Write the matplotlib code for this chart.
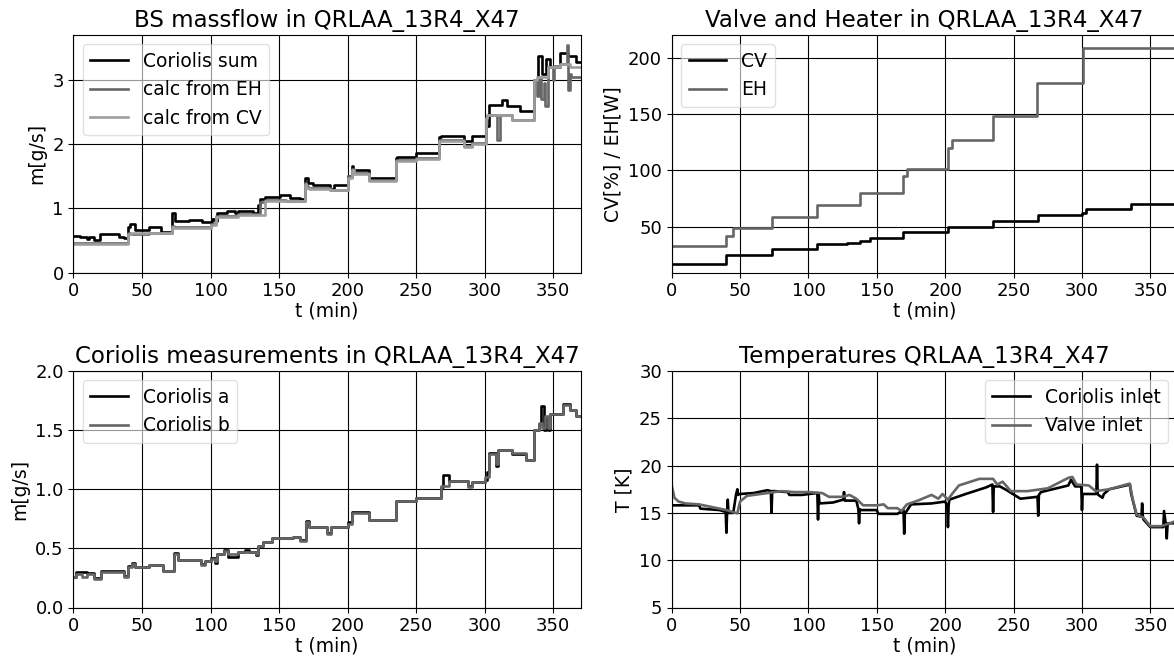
import matplotlib
matplotlib.use("Agg")
import matplotlib.pyplot as plt

# ---------------- data ----------------
TITLE_MF = "BS massflow in QRLAA_13R4_X47"
TITLE_VH = "Valve and Heater in QRLAA_13R4_X47"
TITLE_CO = "Coriolis measurements in QRLAA_13R4_X47"
TITLE_T = "Temperatures QRLAA_13R4_X47"

# Panel 1: mass flow (step series, value holds from t until next t)
t_sum = [0, 5, 10, 11, 15, 19, 33, 37, 40, 41, 45, 55, 64, 72, 74, 84, 94, 98, 101, 103, 105, 112, 118, 120,
         131, 135, 136, 140, 151, 158, 165, 169, 171, 175, 187, 190, 200, 203, 204, 216, 235, 236, 250, 267,
         268, 285, 291, 301, 303, 313, 316, 326, 336, 339, 342, 345, 348, 355, 361, 367, 370]
v_sum = [0.57, 0.55, 0.52, 0.56, 0.51, 0.60, 0.56, 0.53, 0.71, 0.76, 0.66, 0.71, 0.63, 0.93, 0.80, 0.82, 0.78, 0.79,
         0.84, 0.80, 0.92, 0.96, 0.93, 0.96, 0.93, 1.05, 1.14, 1.17, 1.20, 1.16, 1.15, 1.47, 1.39, 1.36, 1.30, 1.36,
         1.50, 1.66, 1.60, 1.47, 1.79, 1.80, 1.86, 2.11, 2.13, 2.05, 2.13, 2.28, 2.61, 2.68, 2.60, 2.51, 3.00,
         3.38, 3.10, 3.33, 3.20, 3.42, 3.38, 3.28, 3.28]

t_eh = [0, 40, 41, 55, 72, 73, 100, 104, 120, 136, 140, 155, 169, 170, 171, 187, 200, 203, 205, 216, 235, 250,
        267, 285, 291, 301, 302, 309, 311, 320, 336, 338, 340, 341, 343, 344, 346, 350, 351, 355, 360, 361, 362,
        363, 370]
v_eh = [0.46, 0.62, 0.60, 0.62, 0.72, 0.71, 0.76, 0.88, 0.91, 1.10, 1.13, 1.12, 1.40, 1.34, 1.31, 1.29, 1.50, 1.62,
        1.55, 1.44, 1.75, 1.79, 2.07, 1.97, 2.02, 2.40, 2.46, 2.07, 2.46, 2.38, 3.00, 2.75, 3.05, 2.70, 2.95,
        2.60, 3.20, 3.00, 3.22, 3.25, 3.55, 2.85, 3.10, 3.05, 3.05]

t_cv = [0, 40, 42, 72, 73, 100, 104, 120, 140, 155, 169, 170, 172, 187, 200, 203, 205, 216, 235, 250, 267, 285,
        291, 301, 302, 320, 336, 338, 346, 355, 362, 370]
v_cv = [0.44, 0.60, 0.62, 0.71, 0.70, 0.74, 0.87, 0.90, 1.12, 1.11, 1.38, 1.32, 1.30, 1.28, 1.48, 1.60, 1.54,
        1.43, 1.74, 1.77, 2.05, 1.95, 2.00, 2.40, 2.46, 2.37, 3.00, 3.05, 3.20, 3.25, 3.20, 3.20]

# Panel 2: valve (CV, %) and heater (EH, W)
t_cvp = [0, 20, 40, 73, 106, 128, 138, 145, 169, 202, 235, 268, 300, 303, 336, 370]
v_cvp = [17.0, 16.5, 25.0, 30.0, 35.0, 35.5, 37.0, 40.0, 45.0, 50.0, 55.0, 60.0, 62.0, 65.5, 70.0, 70.0]
t_ehp = [0, 40, 45, 73, 106, 138, 169, 172, 202, 205, 235, 267, 301, 370]
v_ehp = [32.5, 42.0, 49.0, 58.5, 69.5, 80.0, 95.0, 101.0, 120.0, 127.0, 148.5, 177.0, 208.5, 209.5]

# Panel 3: Coriolis a / b
t_ca = [0, 2, 10, 15, 20, 37, 40, 43, 45, 55, 65, 73, 76, 85, 93, 96, 100, 103, 105, 110, 113, 120, 125, 128,
        133, 135, 138, 145, 160, 165, 170, 172, 185, 188, 200, 203, 216, 235, 250, 268, 270, 274, 288, 291,
        300, 302, 303, 308, 310, 320, 330, 336, 340, 341, 343, 345, 346, 348, 357, 362, 367, 370]
v_ca = [0.26, 0.30, 0.29, 0.25, 0.31, 0.27, 0.35, 0.38, 0.34, 0.36, 0.31, 0.46, 0.40, 0.40, 0.37, 0.39, 0.42,
        0.38, 0.45, 0.49, 0.43, 0.47, 0.49, 0.47, 0.44, 0.52, 0.55, 0.59, 0.60, 0.57, 0.73, 0.68, 0.63, 0.68,
        0.72, 0.81, 0.74, 0.90, 0.93, 1.02, 1.12, 1.07, 1.03, 1.065, 1.08, 1.15, 1.31, 1.20, 1.33, 1.30, 1.25,
        1.50, 1.55, 1.70, 1.50, 1.60, 1.50, 1.64, 1.72, 1.67, 1.62, 1.62]
t_cb = [0, 2, 6, 10, 15, 20, 37, 40, 43, 45, 55, 65, 73, 76, 85, 93, 96, 100, 103, 105, 110, 113, 120, 125,
        133, 135, 138, 145, 160, 165, 170, 172, 185, 188, 200, 203, 216, 235, 250, 268, 274, 288, 291, 300,
        303, 308, 310, 320, 330, 336, 340, 342, 344, 346, 348, 357, 362, 367, 370]
v_cb = [0.26, 0.28, 0.26, 0.28, 0.24, 0.30, 0.26, 0.34, 0.37, 0.34, 0.36, 0.31, 0.45, 0.40, 0.40, 0.36, 0.39,
        0.41, 0.39, 0.45, 0.48, 0.45, 0.47, 0.47, 0.45, 0.52, 0.55, 0.59, 0.60, 0.56, 0.72, 0.68, 0.62, 0.68,
        0.71, 0.80, 0.74, 0.90, 0.93, 1.03, 1.07, 1.02, 1.065, 1.10, 1.30, 1.21, 1.33, 1.31, 1.25, 1.50, 1.56,
        1.52, 1.62, 1.52, 1.64, 1.71, 1.67, 1.62, 1.62]

# Panel 4: temperatures (piecewise linear)
t_tc = [0, 20, 21, 35, 39.5, 40, 40.5, 41, 41.5, 45, 47, 48, 48.5, 50, 60, 70, 72.5, 73, 73.5, 75, 85, 86, 95,
        106.5, 107, 107.5, 108, 118, 125.5, 126, 126.5, 135, 136.5, 137, 137.5, 138, 150, 151, 165, 169.5, 170,
        170.5, 175, 190, 200, 201.5, 202, 202.5, 203, 215, 230, 234.5, 235, 235.5, 240, 245, 255, 267.5, 268,
        268.5, 270, 290, 292, 295, 299.5, 300, 300.5, 310.5, 311, 311.5, 312, 315, 316, 320, 335, 336, 340,
        343.5, 344, 344.5, 345, 350, 359.5, 360, 361.5, 362, 362.5, 363, 370]
v_tc = [15.8, 15.8, 15.45, 15.3, 15.1, 12.9, 15.0, 16.4, 15.0, 15.0, 16.9, 17.5, 16.9, 17.0, 17.1, 17.4, 17.3, 15.0,
        17.3, 17.3, 17.2, 16.9, 16.9, 17.1, 14.3, 17.0, 16.0, 16.1, 16.4, 17.2, 16.3, 16.3, 15.4, 13.9, 15.4, 15.3,
        15.3, 14.9, 14.9, 15.3, 12.8, 14.9, 15.9, 16.0, 16.2, 15.7, 13.5, 15.8, 16.4, 17.0, 17.7, 18.0, 15.1, 17.8,
        17.8, 17.4, 16.5, 16.7, 14.7, 16.9, 17.2, 17.9, 18.5, 17.8, 17.8, 15.3, 17.0, 17.0, 20.1, 17.0, 16.9, 16.6,
        17.0, 17.5, 18.0, 17.0, 14.7, 14.6, 16.0, 14.6, 14.3, 13.5, 13.5, 15.2, 13.6, 12.3, 13.6, 13.9, 13.9]

t_tv = [0, 2, 5, 10, 20, 30, 40, 48, 50, 55, 60, 70, 80, 90, 100, 110, 115, 125, 130, 135, 140, 150, 155, 158,
        165, 168, 172, 180, 190, 195, 198, 202, 205, 210, 225, 235, 238, 242, 248, 260, 275, 290, 293, 296,
        305, 310, 320, 335, 337, 340, 345, 350, 358, 362, 370]
v_tv = [17.9, 16.6, 16.2, 16.0, 15.9, 15.6, 15.3, 14.95, 16.2, 16.8, 16.9, 17.1, 17.3, 17.2, 17.2, 17.1, 16.7,
        16.7, 16.9, 16.5, 15.8, 15.8, 15.9, 15.5, 15.5, 15.2, 15.9, 16.3, 16.9, 16.5, 17.0, 16.4, 17.0, 17.9,
        18.6, 18.6, 18.0, 18.3, 17.3, 17.3, 17.6, 18.7, 18.8, 18.0, 17.9, 17.3, 17.5, 18.1, 16.5, 14.8, 14.5,
        13.6, 13.6, 13.8, 14.2]

# ---------------- figure ----------------
W, H = 1174, 658
plt.rcParams["font.family"] = ["DejaVu Sans"]
plt.rcParams["font.size"] = 13.5

fig = plt.figure(figsize=(W / 100, H / 100), dpi=100)


def box(left, top, right, bottom):
    return [left / W, 1 - bottom / H, (right - left) / W, (bottom - top) / H]


ax1 = fig.add_axes(box(73.5, 35, 580.5, 272.5))
ax2 = fig.add_axes(box(671.7, 35, 1177.7, 272.5))
ax3 = fig.add_axes(box(73.5, 371, 580.5, 607.5))
ax4 = fig.add_axes(box(671.7, 371, 1177.7, 607.5))

DARK = "0.4"
LIGHT = "0.62"
LW = 1.9
TFS = 16.5

ax1.plot(t_sum, v_sum, color="k", lw=LW, drawstyle="steps-post", label="Coriolis sum")
ax1.plot(t_eh, v_eh, color=DARK, lw=LW, drawstyle="steps-post", label="calc from EH")
ax1.plot(t_cv, v_cv, color=LIGHT, lw=LW, drawstyle="steps-post", label="calc from CV")
ax1.set_ylim(0, 3.7)
ax1.set_ylabel("m[g/s]")
ax1.set_title(TITLE_MF, fontsize=TFS)
ax1.legend(loc="upper left", framealpha=0.6)

ax2.plot(t_cvp, v_cvp, color="k", lw=LW, drawstyle="steps-post", label="CV")
ax2.plot(t_ehp, v_ehp, color=DARK, lw=LW, drawstyle="steps-post", label="EH")
ax2.set_ylim(9.4, 220)
ax2.set_yticks([50, 100, 150, 200])
ax2.set_ylabel("CV[%] / EH[W]")
ax2.set_title(TITLE_VH, fontsize=TFS)
ax2.legend(loc="upper left", framealpha=0.6)

ax3.plot(t_ca, v_ca, color="k", lw=LW, drawstyle="steps-post", label="Coriolis a")
ax3.plot(t_cb, v_cb, color=DARK, lw=LW, drawstyle="steps-post", label="Coriolis b")
ax3.set_ylim(0, 2.0)
ax3.set_ylabel("m[g/s]")
ax3.set_title(TITLE_CO, fontsize=TFS)
ax3.legend(loc="upper left", framealpha=0.6)

ax4.plot(t_tc, v_tc, color="k", lw=LW, label="Coriolis inlet")
ax4.plot(t_tv, v_tv, color=DARK, lw=LW, label="Valve inlet")
ax4.set_ylim(5, 30)
ax4.set_ylabel("T [K]")
ax4.set_title(TITLE_T, fontsize=TFS)
ax4.legend(loc="upper right", framealpha=0.6)

for ax in (ax1, ax2, ax3, ax4):
    ax.set_xlim(0, 370)
    ax.set_xticks([0, 50, 100, 150, 200, 250, 300, 350])
    ax.set_xlabel("t (min)", labelpad=1)
    ax.grid(True, color="k", lw=0.8)
    ax.tick_params(labelsize=13)

fig.savefig("out.png", dpi=100)
